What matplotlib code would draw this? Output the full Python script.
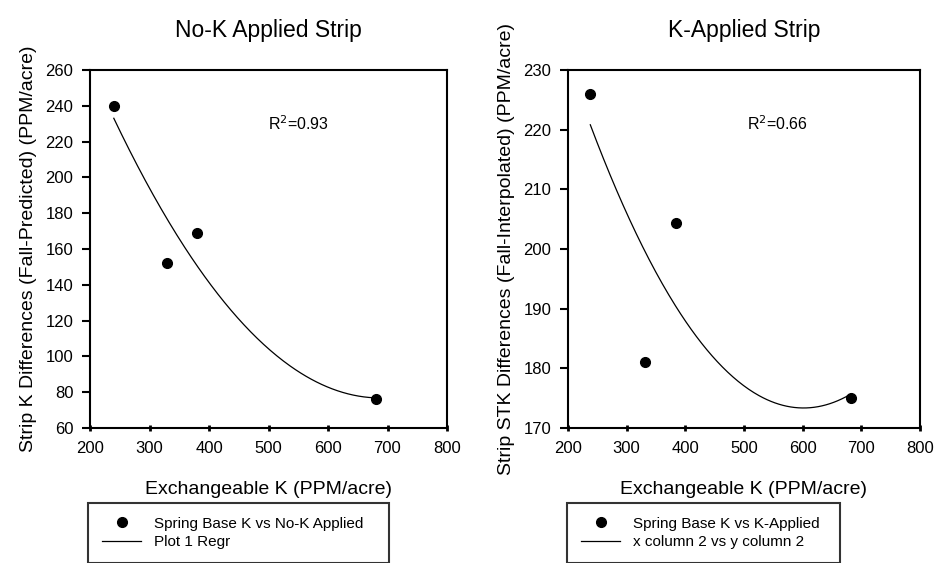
import numpy as np
import matplotlib
matplotlib.use("Agg")
import matplotlib.pyplot as plt

plt.rcParams['font.family'] = ['Liberation Sans', 'DejaVu Sans']

# exchangeable K vs strip differences
no_k_x = [240, 330, 380, 680]
no_k_y = [240, 152, 169, 76]
k_x = [238, 332, 384, 682]
k_y = [226, 181, 204.3, 175]

titles = ['No-K Applied Strip', 'K-Applied Strip']
y_labels = ['Strip K Differences (Fall-Predicted) (PPM/acre)',
            'Strip STK Differences (Fall-Interpolated) (PPM/acre)']
point_labels = ['Spring Base K vs No-K Applied', 'Spring Base K vs K-Applied']
fit_labels = ['Plot 1 Regr', 'x column 2 vs y column 2']
r2_labels = ['R$^2$=0.93', 'R$^2$=0.66']
y_limits = [(60, 260), (170, 230)]
y_steps = [20, 10]
r2_pos = [(500, 230), (505, 221)]


def draw_panel(ax, x, y, idx):
    ax.plot(x, y, 'o', color='black', markersize=7, label=point_labels[idx])
    # second order regression through the four points
    coef = np.polyfit(x, y, 2)
    xs = np.linspace(min(x), max(x), 200)
    ax.plot(xs, np.polyval(coef, xs), color='black', linewidth=0.9, label=fit_labels[idx])

    ax.set_xlim(200, 800)
    ax.set_ylim(*y_limits[idx])
    ax.set_xticks(np.arange(200, 801, 100))
    ax.set_yticks(np.arange(y_limits[idx][0], y_limits[idx][1] + 1, y_steps[idx]))
    ax.tick_params(axis='y', direction='out', length=6, width=1.5, labelsize=12, pad=6)
    ax.tick_params(axis='x', direction='inout', length=5, width=2, labelsize=12, pad=7)
    for s in ax.spines.values():
        s.set_linewidth(1.5)

    ax.set_title(titles[idx], fontsize=16.5, pad=24)
    ax.set_xlabel('Exchangeable K (PPM/acre)', fontsize=14, labelpad=18)
    ax.set_ylabel(y_labels[idx], fontsize=14, labelpad=6)
    ax.text(r2_pos[idx][0], r2_pos[idx][1], r2_labels[idx], fontsize=11.5, va='center')


fig = plt.figure(figsize=(9.37, 5.63), dpi=100)
ax1 = fig.add_axes([90 / 937, 135 / 563, 357 / 937, 358 / 563])
ax2 = fig.add_axes([568 / 937, 135 / 563, 352 / 937, 358 / 563])
draw_panel(ax1, no_k_x, no_k_y, 0)
draw_panel(ax2, k_x, k_y, 1)

for ax, left, right in [(ax1, 88, 389), (ax2, 567, 840)]:
    leg = ax.legend(loc='upper left', mode='expand', fontsize=11,
                    bbox_to_anchor=(left / 937, 1 - 503 / 563, (right - left) / 937, 0),
                    bbox_transform=fig.transFigure, fancybox=False, borderpad=0.9,
                    handlelength=2.6, handletextpad=0.8, labelspacing=0.3,
                    borderaxespad=0)
    leg.get_frame().set_edgecolor('black')
    leg.get_frame().set_linewidth(1.5)

fig.savefig('out.png', dpi=100)
